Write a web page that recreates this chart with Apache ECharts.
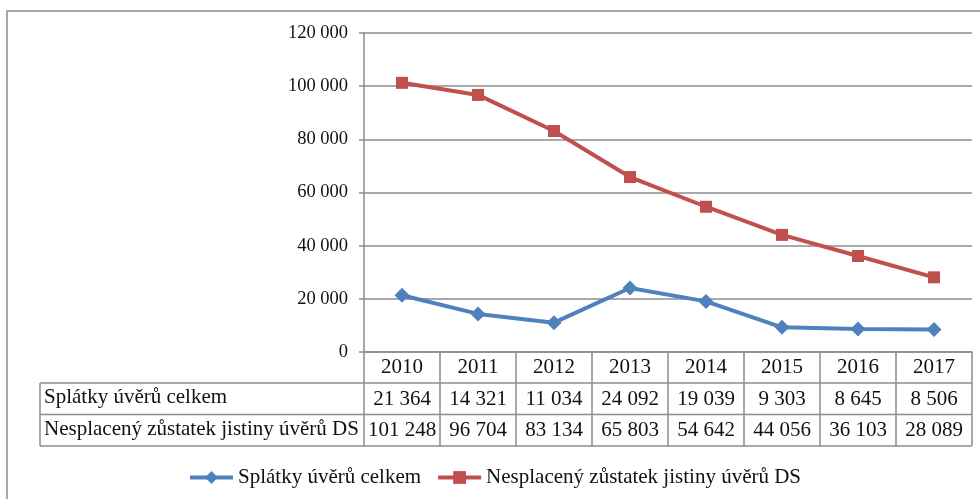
<!DOCTYPE html>
<html>
<head>
<meta charset="utf-8">
<script src="https://cdn.jsdelivr.net/npm/echarts@6/dist/echarts.min.js"></script>
<style>
html,body{margin:0;padding:0;background:#fff;}
#chart{width:980px;height:499px;}
</style>
</head>
<body>
<div id="chart"></div>
<script>
var years = ['2010','2011','2012','2013','2014','2015','2016','2017'];
var splatky = [21364, 14321, 11034, 24092, 19039, 9303, 8645, 8506];
var nesplaceny = [101248, 96704, 83134, 65803, 54642, 44056, 36103, 28089];
var seriesNames = ['Splátky úvěrů celkem', 'Nesplacený zůstatek jistiny úvěrů DS'];

var fontName = 'Liberation Serif';
var gridColor = '#8c8c8c';

// cislo s mezerou mezi tisici
function fmt(v){
    return String(v).replace(/\B(?=(\d{3})+(?!\d))/g, ' ');
}

var myChart = echarts.init(document.getElementById('chart'));

var option = {
    backgroundColor: '#fff',
    animation: false,
    grid: {left: 364, right: 8, top: 33, bottom: 147},
    legend: {
        left: 183,
        top: 462,
        itemWidth: 43,
        itemHeight: 16,
        itemGap: 15,
        lineStyle: {width: 4},
        textStyle: {fontFamily: fontName, fontSize: 21, color: '#111'},
        data: seriesNames
    },
    xAxis: {
        type: 'category',
        data: years,
        boundaryGap: true,
        axisLine: {lineStyle: {color: gridColor, width: 1.5}},
        axisTick: {show: true, length: 94, lineStyle: {color: gridColor, width: 1.5}},
        axisLabel: {
            margin: 0,
            interval: 0,
            fontFamily: fontName,
            fontSize: 21,
            color: '#111',
            lineHeight: 31.5,
            formatter: function(v, idx){
                return v + '\n' + fmt(splatky[idx]) + '\n' + fmt(nesplaceny[idx]);
            }
        }
    },
    yAxis: {
        type: 'value',
        min: 0,
        max: 120000,
        interval: 20000,
        axisLine: {show: true, lineStyle: {color: gridColor, width: 1.5}},
        axisTick: {show: true, length: 5, lineStyle: {color: gridColor, width: 1.5}},
        splitLine: {lineStyle: {color: gridColor, width: 1.5}},
        axisLabel: {
            margin: 16,
            fontFamily: fontName,
            fontSize: 18.5,
            color: '#111',
            formatter: function(v){ return fmt(v); }
        }
    },
    series: [{
        name: seriesNames[0],
        type: 'line',
        data: splatky,
        symbol: 'diamond',
        symbolSize: 15,
        lineStyle: {width: 4, color: '#4f81bd'},
        itemStyle: {color: '#4f81bd'}
    },{
        name: seriesNames[1],
        type: 'line',
        data: nesplaceny,
        symbol: 'rect',
        symbolSize: 12,
        lineStyle: {width: 4, color: '#c0504d'},
        itemStyle: {color: '#c0504d'}
    }],
    graphic: [
        // ramecek grafu
        {type: 'rect', shape: {x: 7, y: 11, width: 1000, height: 600}, style: {fill: null, stroke: gridColor, lineWidth: 1.5}, silent: true},
        // tabulka dat
        {type: 'line', shape: {x1: 40, y1: 383, x2: 972, y2: 383}, style: {stroke: gridColor, lineWidth: 1.5}},
        {type: 'line', shape: {x1: 40, y1: 414.5, x2: 972, y2: 414.5}, style: {stroke: gridColor, lineWidth: 1.5}},
        {type: 'line', shape: {x1: 40, y1: 446, x2: 972, y2: 446}, style: {stroke: gridColor, lineWidth: 1.5}},
        {type: 'line', shape: {x1: 40, y1: 383, x2: 40, y2: 446}, style: {stroke: gridColor, lineWidth: 1.5}},
        {type: 'text', left: 44, top: 387, style: {text: seriesNames[0], font: '21px "Liberation Serif"', fill: '#111'}},
        {type: 'text', left: 44, top: 419, style: {text: seriesNames[1], font: '21px "Liberation Serif"', fill: '#111'}}
    ]
};
myChart.setOption(option, true);
</script>
</body>
</html>
